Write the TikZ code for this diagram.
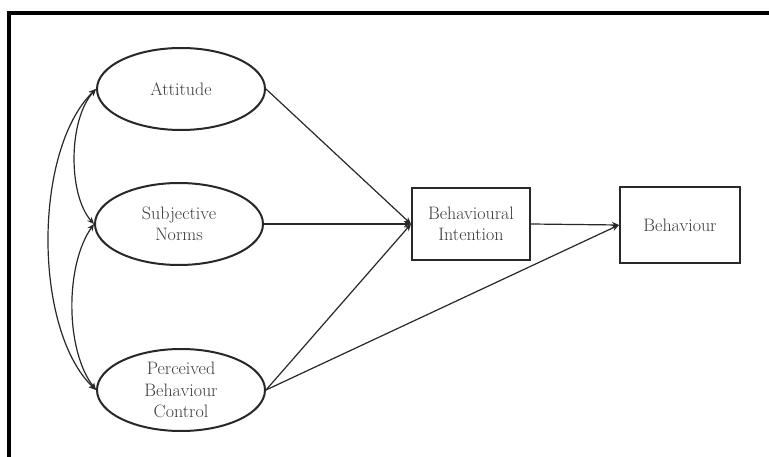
\documentclass[tikz,border=0pt]{standalone}
\usetikzlibrary{shapes.geometric,arrows.meta}
\definecolor{txt}{RGB}{60,60,60}
\definecolor{ln}{RGB}{40,40,40}
\begin{document}
\begin{tikzpicture}[x=1pt,y=-1pt,
  latent/.style={ellipse,draw=ln,line width=2pt,minimum width=168pt,minimum height=82pt,inner sep=0pt,align=center,text=txt,font=\rmfamily\fontsize{18}{21.5}\selectfont},
  obs/.style={rectangle,draw=ln,line width=2pt,inner sep=0pt,align=center,text=txt,font=\rmfamily\fontsize{18}{21.5}\selectfont},
  path/.style={draw=ln,line width=1.2pt,-{Stealth[length=7pt,width=6pt]}},
  cov/.style={draw=ln,line width=1.2pt,{Stealth[length=7pt,width=6pt]}-{Stealth[length=7pt,width=6pt]}}]
\useasboundingbox (0,0) rectangle (769,457);
\fill[white] (0,0) rectangle (769,457);
\draw[line width=3.5pt,black] (9,457) -- (9,13) -- (769,13);
\node[latent] (att) at (181,89) {Attitude};
\node[latent] (sn) at (179,224) {Subjective\\Norms};
\node[latent] (pbc) at (181,390) {Perceived\\Behaviour\\Control};
\node[obs,minimum width=118pt,minimum height=72pt] (bi) at (471,224) {Behavioural\\Intention};
\node[obs,minimum width=120pt,minimum height=76pt] (beh) at (680,225) {Behaviour};
\draw[path] (att.east) -- (bi.west);
\draw[path] (sn.east) -- (bi.west);
\draw[path] (pbc.east) -- (bi.west);
\draw[path] (pbc.east) -- (beh.west);
\draw[path] (bi.east) -- (beh.west);
\draw[cov] (att.west) .. controls (68,120) and (68,195) .. (sn.west);
\draw[cov] (sn.west) .. controls (65,265) and (65,350) .. (pbc.west);
\draw[cov] (att.west) .. controls (33,150) and (33,330) .. (pbc.west);
\end{tikzpicture}
\end{document}
